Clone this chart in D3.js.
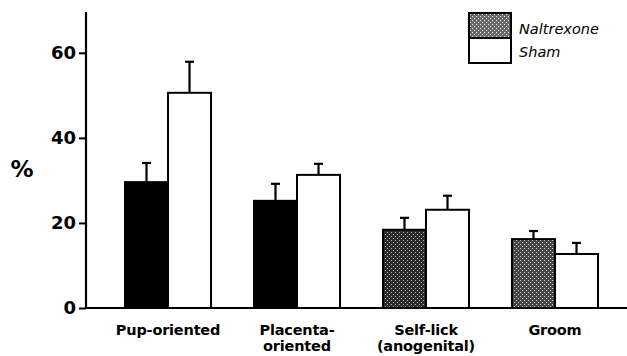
<!DOCTYPE html>
<html><head><meta charset="utf-8">
<script src="https://cdn.jsdelivr.net/npm/d3@7"></script>
<style>body{margin:0;background:#fff}svg{display:block}</style>
</head><body>
<svg id="c" width="627" height="356"></svg>
<script>
const categories = ["Pup-oriented", "Placenta-oriented", "Self-lick (anogenital)", "Groom"];
const categoryLines = [["Pup-oriented"], ["Placenta-", "oriented"], ["Self-lick", "(anogenital)"], ["Groom"]];
const seriesNames = ["Naltrexone", "Sham"];
const naltrexone = [29.6, 25.2, 18.4, 16.2];
const naltrexoneErr = [4.5, 4.0, 2.8, 1.9];
const sham = [50.6, 31.3, 23.1, 12.7];
const shamErr = [7.3, 2.6, 3.3, 2.6];
const yTicks = [0, 20, 40, 60];

const svg = d3.select("#c");
const defs = svg.append("defs");
function stipple(id, bg, dotColor) {
  const p = defs.append("pattern").attr("id", id).attr("patternUnits", "userSpaceOnUse")
    .attr("width", 4).attr("height", 4);
  p.append("rect").attr("width", 4).attr("height", 4).attr("fill", bg);
  [[0,0],[2,2]].forEach(([x,y]) => p.append("rect").attr("x", x).attr("y", y).attr("width", 1).attr("height", 1).attr("fill", dotColor));
}
stipple("stipA", "#2a2a2a", "#bbb");
stipple("stipB", "#444", "#ddd");
stipple("stipL", "#6a6a6a", "#eee");

const font = "'DejaVu Sans', 'Liberation Sans', sans-serif";
const margin = {left: 86, top: 12, bottom: 308, right: 627};
const y = d3.scaleLinear().domain([0, 69.6]).range([margin.bottom, margin.top]);
const x0 = d3.scaleBand().domain(categories).range([125, 598]).paddingInner(0.333).paddingOuter(0);
const x1 = d3.scaleBand().domain(seriesNames).range([0, x0.bandwidth()]);

const nalFill = ["#000", "#000", "url(#stipA)", "url(#stipB)"];

const groups = svg.append("g").selectAll("g").data(categories).join("g")
  .attr("transform", d => `translate(${x0(d)},0)`);

groups.each(function(cat, i) {
  const g = d3.select(this);
  const data = [
    {s: "Naltrexone", v: naltrexone[i], e: naltrexoneErr[i], fill: nalFill[i]},
    {s: "Sham", v: sham[i], e: shamErr[i], fill: "#fff"}
  ];
  data.forEach(d => {
    const bx = x1(d.s), bw = x1.bandwidth(), cx = bx + bw / 2;
    g.append("line").attr("x1", cx).attr("x2", cx).attr("y1", y(d.v)).attr("y2", y(d.v + d.e))
      .attr("stroke", "#000").attr("stroke-width", 2.2);
    g.append("line").attr("x1", cx - 4.5).attr("x2", cx + 4.5).attr("y1", y(d.v + d.e)).attr("y2", y(d.v + d.e))
      .attr("stroke", "#000").attr("stroke-width", 2.2);
    g.append("rect").attr("x", bx).attr("y", y(d.v)).attr("width", bw).attr("height", y(0) - y(d.v))
      .attr("fill", d.fill).attr("stroke", "#000").attr("stroke-width", 2);
  });
});

svg.append("line").attr("x1", margin.left).attr("x2", margin.right).attr("y1", y(0)).attr("y2", y(0))
  .attr("stroke", "#000").attr("stroke-width", 2);
const yAxis = svg.append("g").attr("transform", `translate(${margin.left},0)`)
  .call(d3.axisLeft(y).tickValues(yTicks).tickSize(7).tickPadding(3).tickFormat(d3.format("d")));
yAxis.select(".domain").remove();
yAxis.append("line").attr("x1", 0).attr("x2", 0).attr("y1", margin.top).attr("y2", y(0))
  .attr("stroke", "#000").attr("stroke-width", 2.2);
yAxis.selectAll(".tick line").attr("stroke", "#000").attr("stroke-width", 2);
yAxis.selectAll(".tick text").attr("fill", "#000")
  .style("font-family", font).style("font-weight", "bold").style("font-size", "18px");

svg.append("text").attr("x", 22).attr("y", 177).attr("text-anchor", "middle")
  .style("font-family", font).style("font-weight", "bold").style("font-size", "23px")
  .text("%");

const labelData = [];
categories.forEach((c, i) => categoryLines[i].forEach((ln, j) => labelData.push({c, ln, j})));
svg.append("g").selectAll("text").data(labelData).join("text")
  .attr("x", d => x0(d.c) + x0.bandwidth() / 2)
  .attr("y", d => 335 + d.j * 16).attr("text-anchor", "middle")
  .style("font-family", font).style("font-weight", "bold").style("font-size", "14.5px")
  .style("letter-spacing", "-0.2px")
  .text(d => d.ln);

const lg = svg.append("g");
lg.append("rect").attr("x", 469).attr("y", 13).attr("width", 42).attr("height", 25)
  .attr("fill", "url(#stipL)").attr("stroke", "#000").attr("stroke-width", 2);
lg.append("rect").attr("x", 469).attr("y", 38).attr("width", 42).attr("height", 25)
  .attr("fill", "#fff").attr("stroke", "#000").attr("stroke-width", 2);
lg.selectAll("text").data(seriesNames).join("text")
  .attr("x", 519).attr("y", (d, i) => 34 + i * 23)
  .style("font-family", font).style("font-style", "italic").style("font-size", "14.5px")
  .text(d => d);
</script>
</body></html>
